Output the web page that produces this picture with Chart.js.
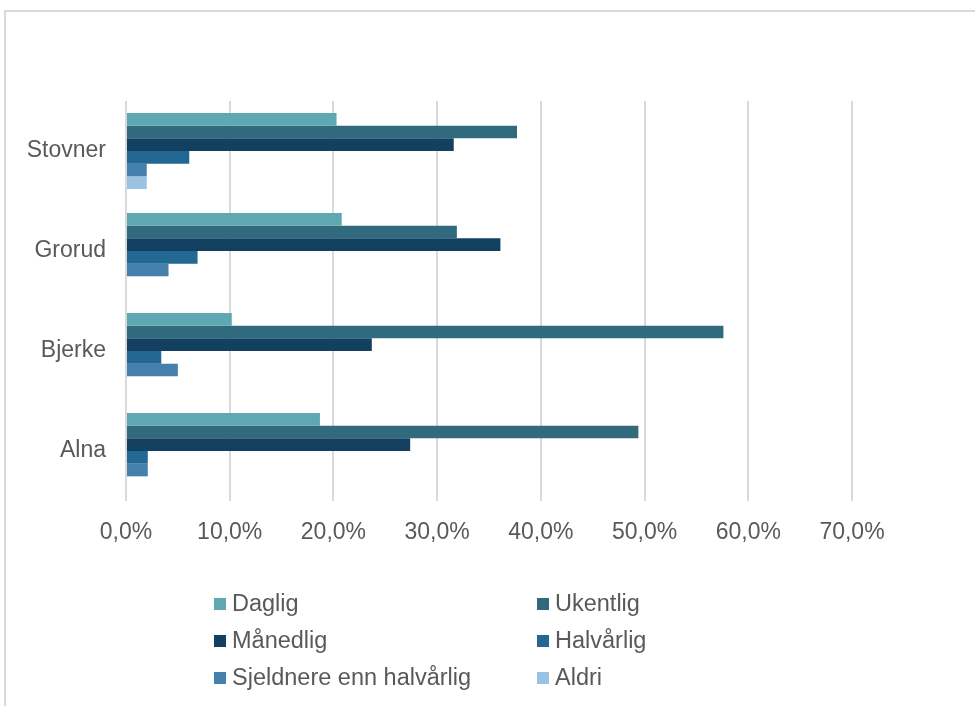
<!DOCTYPE html>
<html>
<head>
<meta charset="utf-8">
<script src="https://cdn.jsdelivr.net/npm/chart.js@4"></script>
<style>
  body { margin: 0; background: #fff; }
  #wrap { position: relative; width: 975px; height: 706px; }
  #frame { position: absolute; left: 4px; top: 10px; right: 0; bottom: 0;
    border-top: 2px solid #d9d9d9; border-left: 2px solid #d9d9d9; }
  #myChart { position: absolute; left: 0; top: 0; }
  .leg { position: absolute; font-family: "Liberation Sans", Arial, sans-serif;
    font-size: 23.5px; color: #595959; white-space: nowrap; line-height: 26px; }
  .leg span { display: inline-block; width: 12px; height: 12px; margin-right: 6px;
    vertical-align: 1px; }
</style>
</head>
<body>
<div id="wrap">
  <div id="frame"></div>
  <canvas id="myChart" width="975" height="706"></canvas>
</div>
<script>
let categories = ["Stovner", "Grorud", "Bjerke", "Alna"];
let seriesNames = ["Daglig", "Ukentlig", "Månedlig", "Halvårlig", "Sjeldnere enn halvårlig", "Aldri"];
let daglig = [20.3, 20.8, 10.2, 18.7];
let ukentlig = [37.7, 31.9, 57.6, 49.4];
let maanedlig = [31.6, 36.1, 23.7, 27.4];
let halvaarlig = [6.1, 6.9, 3.4, 2.1];
let sjeldnere = [2.0, 4.1, 5.0, 2.1];
let aldri = [2.0, 0, 0, 0];
let tickValues = [0, 10, 20, 30, 40, 50, 60, 70];
let barColors = ["#5fa8b2", "#306a7c", "#133f60", "#236892", "#4681ad", "#9ac2e2"];

let values = [daglig, ukentlig, maanedlig, halvaarlig, sjeldnere, aldri];
let datasets = seriesNames.map(function (name, i) {
  return {
    label: name,
    data: values[i],
    backgroundColor: barColors[i],
    categoryPercentage: 0.76,
    barPercentage: 1
  };
});

let font = { family: "'Liberation Sans', Arial, sans-serif", size: 23 };

new Chart("myChart", {
  type: "bar",
  data: { labels: categories, datasets: datasets },
  options: {
    indexAxis: "y",
    responsive: false,
    animation: false,
    layout: { padding: { top: 101, right: 123, bottom: 0, left: 0 } },
    plugins: { legend: { display: false }, tooltip: { enabled: false } },
    scales: {
      x: {
        min: 0,
        max: 70,
        afterBuildTicks: function (scale) {
          scale.ticks = tickValues.map(function (v) { return { value: v }; });
        },
        afterFit: function (scale) { scale.height = 205; },
        grid: { color: "#d9d9d9", lineWidth: 2, drawTicks: false },
        border: { display: false },
        ticks: {
          padding: 18,
          color: "#595959",
          font: font,
          callback: function (v) { return v.toFixed(1).replace(".", ",") + "%"; }
        }
      },
      y: {
        afterFit: function (scale) { scale.width = 126; },
        grid: { display: false },
        border: { display: false },
        ticks: { padding: 12, color: "#595959", font: font }
      }
    }
  }
});

// legend in two columns, built from the series
let legX = [214, 537];
let legY = [590, 627, 664];
seriesNames.forEach(function (name, i) {
  let d = document.createElement("div");
  d.className = "leg";
  d.style.left = legX[i % 2] + "px";
  d.style.top = legY[Math.floor(i / 2)] + "px";
  d.innerHTML = '<span style="background:' + barColors[i] + '"></span>' + name;
  document.getElementById("wrap").appendChild(d);
});
</script>
</body>
</html>
